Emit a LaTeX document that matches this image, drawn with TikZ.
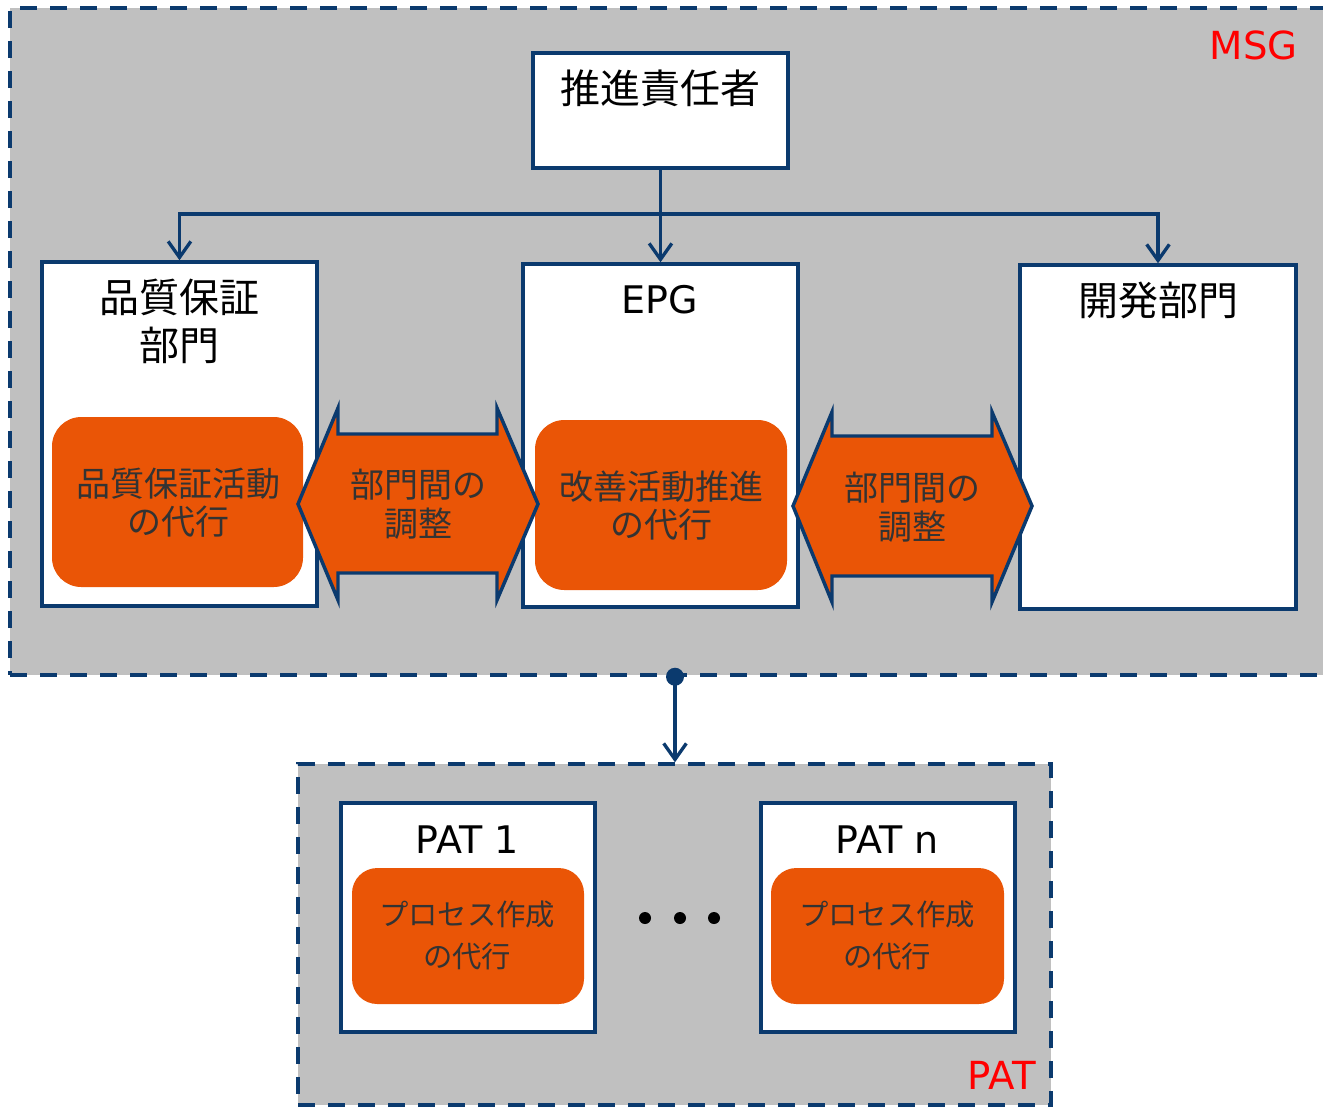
\documentclass[tikz,border=0pt]{standalone}
\usepackage{fontspec}
\setmainfont{DejaVu Sans}
\newfontfamily\jp{Noto Sans CJK JP}
\usetikzlibrary{arrows.meta}
\definecolor{navy}{HTML}{0B3A6E}
\definecolor{org}{HTML}{EA5506}
\definecolor{regiongray}{HTML}{C0C0C0}
\definecolor{txtgray}{HTML}{333333}
\begin{document}
\begin{tikzpicture}[x=0.75pt,y=-0.75pt,
  region/.style={draw=navy, fill=regiongray, line width=2.6pt, dash pattern=on 12.75pt off 9.75pt, inner sep=0pt},
  wbox/.style={draw=navy, fill=white, line width=2.6pt, inner sep=0pt},
  obox/.style={fill=org, rounded corners=22pt, inner sep=0pt},
  obox small/.style={fill=org, rounded corners=19pt, inner sep=0pt},
  dbl/.style={draw=navy, fill=org, line width=2.6pt, line join=miter},
  conn/.style={draw=navy, line width=2.5pt},
  arr/.style={-{Straight Barb[length=12pt,width=17pt]}},
  ttl/.style={font=\jp\fontsize{30pt}{36pt}\selectfont, text=black, align=center, inner sep=0pt},
  lat/.style={font=\fontsize{28.5pt}{34pt}\selectfont, text=black, inner sep=0pt},
  otxt/.style={font=\jp\fontsize{25.5pt}{29pt}\selectfont, text=txtgray, align=center, inner sep=0pt},
  ptxt/.style={font=\jp\fontsize{22pt}{31pt}\selectfont, text=txtgray, align=center, inner sep=0pt},
  red lbl/.style={font=\fontsize{29pt}{34pt}\selectfont, text=red, inner sep=0pt},
  dotc/.style={circle, fill=black, minimum size=9pt, inner sep=0pt}
]
\useasboundingbox (0,0) rectangle (1323,1107);

% regions
\node[region, minimum width=1330*0.75pt, minimum height=667*0.75pt] (msg) at (675,341.5) {};
\node[region, minimum width=753*0.75pt, minimum height=341*0.75pt] (pat) at (674.5,934.5) {};
\node[red lbl, anchor=east] (msglbl) at (1298,45) {MSG};
\node[red lbl, anchor=east] (patlbl) at (1036,1075) {PAT};

% top box
\node[wbox, minimum width=255*0.75pt, minimum height=115*0.75pt] (top) at (660.5,110.5) {};
\node[ttl] (toptxt) at (660,88) {推進責任者};

% department boxes
\node[wbox, minimum width=275*0.75pt, minimum height=344*0.75pt] (qa) at (179.5,434) {};
\node[wbox, minimum width=275*0.75pt, minimum height=343*0.75pt] (epg) at (660.5,435.5) {};
\node[wbox, minimum width=276*0.75pt, minimum height=344*0.75pt] (dev) at (1158,437) {};
\node[ttl] (qatxt) at (179,321) {品質保証\\部門};
\node[lat] (epgtxt) at (660,300) {EPG};
\node[ttl] (devtxt) at (1158,300) {開発部門};

% orange boxes
\node[obox, minimum width=251*0.75pt, minimum height=170*0.75pt] (oqa) at (177.5,502) {};
\node[otxt] (oqatxt) at (178,502.5) {品質保証活動\\の代行};
\node[obox, minimum width=252*0.75pt, minimum height=170*0.75pt] (oepg) at (661,505) {};
\node[otxt] (oepgtxt) at (661,505.5) {改善活動推進\\の代行};

% connectors from top
\coordinate (bus) at (660.5,214);
\draw[conn] (top.south) -- (bus);
\draw[conn,arr] (bus) -| (qa.north);
\draw[conn,arr] (bus) -- (epg.north);
\draw[conn,arr] (bus) -| (dev.north);

% double arrows
\draw[dbl] (298,504) -- (338,408) -- (338,434) -- (497,434) -- (497,408) -- (538,504)
  -- (497,600) -- (497,573) -- (338,573) -- (338,600) -- cycle;
\node[otxt] (adj1) at (418,504) {部門間の\\調整};
\draw[dbl] (793,506) -- (832,412) -- (832,436) -- (992,436) -- (992,412) -- (1032,506)
  -- (992,602) -- (992,576) -- (832,576) -- (832,602) -- cycle;
\node[otxt] (adj2) at (912,507) {部門間の\\調整};

% MSG -> PAT
\fill[navy] (msg.south) circle[radius=6.75pt];
\draw[conn,arr] (msg.south) -- (msg.south |- pat.north);

% PAT boxes
\node[wbox, minimum width=254*0.75pt, minimum height=229*0.75pt] (pat1) at (468,917.5) {};
\node[wbox, minimum width=254*0.75pt, minimum height=229*0.75pt] (patn) at (888,917.5) {};
\node[lat] (pat1txt) at (467,840) {PAT 1};
\node[lat] (patntxt) at (887,840) {PAT n};
\node[obox small, minimum width=232*0.75pt, minimum height=136*0.75pt] (opat1) at (468,936) {};
\node[obox small, minimum width=233*0.75pt, minimum height=136*0.75pt] (opatn) at (887.5,936) {};
\node[ptxt] (opat1txt) at (467,935.5) {プロセス作成\\の代行};
\node[ptxt] (opatntxt) at (887,935.5) {プロセス作成\\の代行};

% dots
\node[dotc] (d1) at (645,918) {};
\node[dotc] (d2) at (680,918) {};
\node[dotc] (d3) at (714,918) {};
\end{tikzpicture}
\end{document}
